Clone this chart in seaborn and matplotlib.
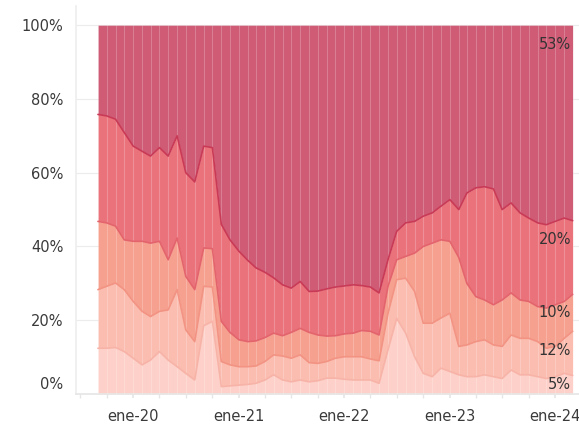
import numpy as np
import pandas as pd
import matplotlib
matplotlib.use("Agg")
import matplotlib.pyplot as plt
import matplotlib.dates as mdates
from matplotlib.transforms import ScaledTranslation
import seaborn as sns

# monthly shares (%), Sep 2019 .. Mar 2024, bottom layer first
months = pd.date_range("2019-09-01", "2024-03-01", freq="MS")

share_1 = [12.4, 12.4, 12.6, 11.5, 9.7, 7.9, 9.2, 11.5, 9.2, 7.4, 5.6, 3.8, 18.5, 19.7,
           2.0, 2.2, 2.4, 2.6, 2.9, 3.8, 5.2, 3.8, 3.3, 3.8, 3.3, 3.6, 4.3, 4.3, 4.0,
           3.8, 3.8, 3.8, 2.9, 12.0, 20.5, 16.5, 10.1, 5.6, 4.7, 7.0, 6.1, 5.2, 4.7,
           4.7, 5.2, 4.7, 4.2, 6.5, 5.2, 5.2, 4.7, 4.2, 4.7, 5.6, 5.0]
share_2 = [15.9, 16.8, 17.5, 16.8, 15.4, 14.5, 11.8, 10.9, 13.6, 20.9, 11.8, 10.4, 10.7, 9.3,
           6.8, 5.7, 5.0, 4.8, 4.7, 5.0, 5.4, 6.5, 6.4, 6.8, 5.2, 4.7, 4.5, 5.4, 6.1,
           6.3, 6.3, 5.7, 6.1, 9.9, 10.5, 14.9, 17.7, 13.6, 14.5, 13.6, 15.8, 7.7, 8.6,
           9.5, 9.5, 8.6, 8.7, 9.5, 9.9, 9.9, 9.5, 8.2, 8.2, 9.5, 12.0]
share_3 = [18.5, 17.2, 15.4, 13.5, 16.3, 19.0, 19.9, 19.0, 13.6, 14.0, 14.5, 14.1, 10.4, 10.4,
           10.9, 8.8, 7.3, 6.8, 6.8, 6.5, 5.9, 5.5, 7.0, 7.2, 8.2, 7.7, 6.9, 6.1, 6.2,
           6.4, 7.1, 7.5, 7.0, 7.3, 5.4, 5.9, 10.4, 20.8, 21.7, 21.2, 19.5, 24.1, 16.7,
           12.2, 10.8, 10.9, 12.6, 11.4, 10.4, 10.0, 9.5, 10.9, 11.3, 10.0, 10.0]
share_4 = [29.0, 29.0, 29.0, 29.1, 25.8, 24.4, 23.6, 25.4, 28.1, 27.7, 28.1, 29.2, 27.6, 27.4,
           26.3, 25.1, 24.0, 22.0, 19.8, 17.7, 15.0, 13.8, 12.0, 12.7, 11.1, 11.9, 12.8, 13.2, 13.0,
           13.1, 12.2, 12.0, 11.4, 7.2, 7.7, 9.1, 8.6, 8.2, 8.2, 9.1, 11.3, 13.0, 24.5,
           29.5, 30.7, 31.4, 24.5, 24.4, 23.6, 22.6, 22.7, 22.6, 22.6, 22.6, 20.0]
share_5 = [24.2, 24.6, 25.5, 29.1, 32.8, 34.2, 35.5, 33.2, 35.5, 30.0, 40.0, 42.5, 32.8, 33.2,
           54.0, 58.2, 61.3, 63.8, 65.8, 67.0, 68.5, 70.4, 71.3, 69.5, 72.2, 72.1, 71.5, 71.0, 70.7,
           70.4, 70.6, 71.0, 72.6, 63.6, 55.9, 53.6, 53.2, 51.8, 50.9, 49.1, 47.3, 50.0, 45.5,
           44.1, 43.8, 44.4, 50.0, 48.2, 50.9, 52.3, 53.6, 54.1, 53.2, 52.3, 53.0]

fill_colors = ["#fdd1c9", "#fbbdb0", "#f6a08f", "#ea727b", "#cf5b75"]
edge_colors = ["#f7b3a7", "#f29383", "#e3646c", "#c93a56"]

year_ticks = pd.to_datetime(["2020-01-01", "2021-01-01", "2022-01-01", "2023-01-01", "2024-01-01"])
year_labels = ["ene-20", "ene-21", "ene-22", "ene-23", "ene-24"]

sns.set_theme(style="white")
plt.rcParams["font.family"] = ["DejaVu Sans"]

fig = plt.figure(figsize=(5.79, 4.30), dpi=100)
ax = fig.add_axes([76 / 579, 36 / 430, 503 / 579, 388 / 430])

layers = [share_1, share_2, share_3, share_4, share_5]
ax.stackplot(months, *layers, colors=fill_colors, lw=0, zorder=2)

# month separators inside the area
ax.vlines(months, 0, 100, color="white", alpha=0.22, lw=0.8, zorder=3)

cum = np.cumsum(np.array(layers), axis=0)
for k in range(4):
    sns.lineplot(x=months, y=cum[k], color=edge_colors[k], lw=1.2, ax=ax, zorder=4)

# end labels
bottoms = np.vstack([np.zeros(len(months)), cum[:-1]])
for k in range(5):
    top = cum[k][-1]
    mid = (bottoms[k][-1] + top) / 2
    ypos = max(mid, top - 5.2)
    ax.annotate(f"{layers[k][-1]:.0f}%", xy=(months[-1], ypos), xytext=(-1, 0),
                textcoords="offset points", ha="right", va="center",
                fontsize=10.5, color="#333333", zorder=5)

ax.set_xlim(pd.Timestamp("2019-06-17"), pd.Timestamp("2024-03-23"))
ax.set_ylim(0, 105.2)
ax.set_yticks([0, 20, 40, 60, 80, 100])
ax.set_yticklabels(["0%", "20%", "40%", "60%", "80%", "100%"])
ax.set_xticks(year_ticks)
ax.set_xticklabels(year_labels)
ax.xaxis.set_minor_locator(mdates.MonthLocator(bymonth=[1, 4, 7, 10]))

ax.grid(axis="y", color="#ececec", lw=0.8, zorder=0)
ax.grid(axis="x", visible=False)
for side in ["top", "right"]:
    ax.spines[side].set_visible(False)
ax.spines["left"].set_color("#eeeeee")
ax.spines["bottom"].set_color("#e6e6e6")
ax.tick_params(axis="y", length=4, color="#e6e6e6", pad=5, labelsize=10.5, labelcolor="#3a3a3a")
ax.tick_params(axis="x", which="both", length=3, color="#e6e6e6", pad=8, labelsize=10.5,
               labelcolor="#3a3a3a", bottom=True)
ax.set_xlabel("")
ax.set_ylabel("")

# zero label sits a little above the baseline
zero_lab = ax.get_yticklabels()[0]
zero_lab.set_transform(zero_lab.get_transform() + ScaledTranslation(0, 8 / 72, fig.dpi_scale_trans))

fig.savefig("out.png", dpi=100)
